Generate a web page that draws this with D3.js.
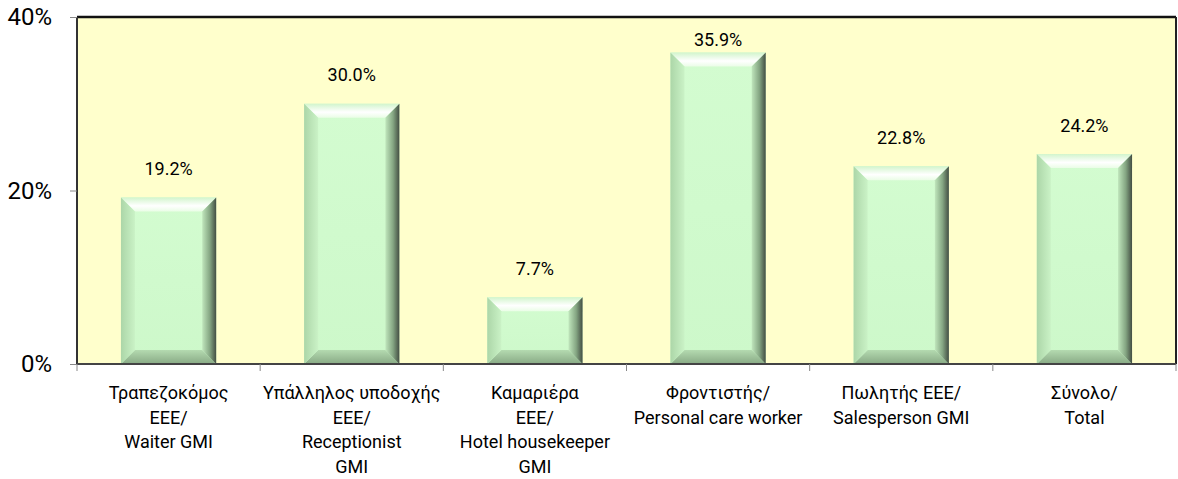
<!DOCTYPE html>
<html>
<head>
<meta charset="utf-8">
<script src="https://cdn.jsdelivr.net/npm/d3@7/dist/d3.min.js"></script>
<style>
  html, body { margin: 0; padding: 0; background: #fff; }
  svg { display: block; font-family: Roboto, "Noto Sans", sans-serif; }
</style>
</head>
<body>
<div id="chart"></div>
<script>
// data
const categories = [
  'Τραπεζοκόμος\nEEE/\nWaiter GMI',
  'Υπάλληλος υποδοχής\nEEE/\nReceptionist\nGMI',
  'Καμαριέρα\nEEE/\nHotel housekeeper\nGMI',
  'Φροντιστής/\nPersonal care worker',
  'Πωλητής EEE/\nSalesperson GMI',
  'Σύνολο/\nTotal'
];
const values = [19.2, 30.0, 7.7, 35.9, 22.8, 24.2];
const yTicks = [0, 20, 40];

const width = 1178, height = 479;
const margin = { top: 17, right: 2, bottom: 115, left: 77 };
const innerW = width - margin.left - margin.right;
const innerH = height - margin.top - margin.bottom;

const svg = d3.select('#chart').append('svg')
  .attr('width', width)
  .attr('height', height);

const defs = svg.append('defs');
function grad(id, x1, y1, x2, y2, stops) {
  const g = defs.append('linearGradient').attr('id', id)
    .attr('x1', x1).attr('y1', y1).attr('x2', x2).attr('y2', y2);
  stops.forEach(s => g.append('stop').attr('offset', s[0]).attr('stop-color', s[1]));
}
grad('gTop', 0, 0, 0, 1, [[0, '#d2f5cc'], [0.6, '#ffffff'], [1, '#eafde6']]);
grad('gRight', 0, 0, 1, 0, [[0, '#c0e6bc'], [0.55, '#84a582'], [1, '#434e43']]);
grad('gBottom', 0, 0, 0, 1, [[0, '#b4dab0'], [1, '#88aa85']]);
grad('gLeft', 0, 0, 1, 0, [[0, '#acd6a8'], [1, '#caf2c6']]);
grad('gFace', 0, 0, 0, 1, [[0, '#d3fcd0'], [1, '#cdf8ca']]);

const g = svg.append('g')
  .attr('transform', `translate(${margin.left},${margin.top})`);

// scales
const xScale = d3.scaleBand()
  .domain(categories)
  .range([0, innerW])
  .paddingInner(0.48)
  .paddingOuter(0.24);

const yScale = d3.scaleLinear()
  .domain([0, 40])
  .range([innerH, 0]);

// plot background
g.append('rect')
  .attr('width', innerW)
  .attr('height', innerH)
  .attr('fill', '#ffffcc');

// bars with bevel
const b = 14;
const bars = g.selectAll('.bar')
  .data(values)
  .enter().append('g')
  .attr('class', 'bar');

bars.each(function(v, i) {
  const sel = d3.select(this);
  const x0 = xScale(categories[i]);
  const x1 = x0 + xScale.bandwidth();
  const y0 = yScale(v);
  const y1 = yScale(0);
  const bb = Math.min(b, (y1 - y0) / 2);
  const pts = a => a.map(p => p.join(',')).join(' ');
  sel.append('rect')
    .attr('x', x0).attr('y', y0)
    .attr('width', x1 - x0).attr('height', y1 - y0)
    .attr('fill', 'url(#gFace)');
  sel.append('polygon')
    .attr('points', pts([[x0, y0], [x1, y0], [x1 - bb, y0 + bb], [x0 + bb, y0 + bb]]))
    .attr('fill', 'url(#gTop)');
  sel.append('polygon')
    .attr('points', pts([[x0, y1], [x1, y1], [x1 - bb, y1 - bb], [x0 + bb, y1 - bb]]))
    .attr('fill', 'url(#gBottom)');
  sel.append('polygon')
    .attr('points', pts([[x0, y0], [x0 + bb, y0 + bb], [x0 + bb, y1 - bb], [x0, y1]]))
    .attr('fill', 'url(#gLeft)');
  sel.append('polygon')
    .attr('points', pts([[x1, y0], [x1 - bb, y0 + bb], [x1 - bb, y1 - bb], [x1, y1]]))
    .attr('fill', 'url(#gRight)');
});

// value labels
g.selectAll('.val')
  .data(values)
  .enter().append('text')
  .attr('class', 'val')
  .attr('x', (d, i) => xScale(categories[i]) + xScale.bandwidth() / 2)
  .attr('y', d => Math.max(yScale(d) - 29, 22))
  .attr('text-anchor', 'middle')
  .attr('dominant-baseline', 'central')
  .style('font-size', '18px')
  .attr('fill', '#000')
  .text(d => d3.format('.1f')(d) + '%');

// plot border
g.append('line').attr('x1', 0).attr('x2', innerW).attr('y1', 0).attr('y2', 0)
  .attr('stroke', '#111').attr('stroke-width', 2.5);
g.append('line').attr('x1', 0).attr('x2', 0).attr('y1', 0).attr('y2', innerH)
  .attr('stroke', '#333').attr('stroke-width', 2);
g.append('line').attr('x1', innerW).attr('x2', innerW).attr('y1', 0).attr('y2', innerH)
  .attr('stroke', '#222').attr('stroke-width', 2);

// y axis
const yAxis = g.append('g')
  .call(d3.axisLeft(yScale).tickValues(yTicks).tickSize(7).tickPadding(18)
    .tickFormat(d => d + '%'));
yAxis.select('.domain').remove();
yAxis.selectAll('line').attr('stroke', '#888');
yAxis.selectAll('text')
  .style('font-size', '24px')
  .style('font-family', 'Roboto, sans-serif')
  .attr('fill', '#000');

// x axis
const bounds = d3.range(categories.length + 1)
  .map(i => i * xScale.step());
const xAxis = g.append('g').attr('transform', `translate(0,${innerH})`);
xAxis.append('line').attr('x1', 0).attr('x2', innerW)
  .attr('stroke', '#444').attr('stroke-width', 2);
xAxis.selectAll('.tk')
  .data(bounds)
  .enter().append('line')
  .attr('x1', d => d).attr('x2', d => d)
  .attr('y1', 0).attr('y2', 7)
  .attr('stroke', '#888');

const labels = xAxis.selectAll('.cat')
  .data(categories)
  .enter().append('text')
  .attr('class', 'cat')
  .attr('text-anchor', 'middle')
  .attr('fill', '#000')
  .style('font-size', '18px')
  .attr('transform', d => `translate(${xScale(d) + xScale.bandwidth() / 2},29)`);

labels.selectAll('tspan')
  .data(d => d.split('\n'))
  .enter().append('tspan')
  .attr('x', 0)
  .attr('dy', (d, i) => i === 0 ? '0.35em' : 24.5)
  .text(d => d);
</script>
</body>
</html>
